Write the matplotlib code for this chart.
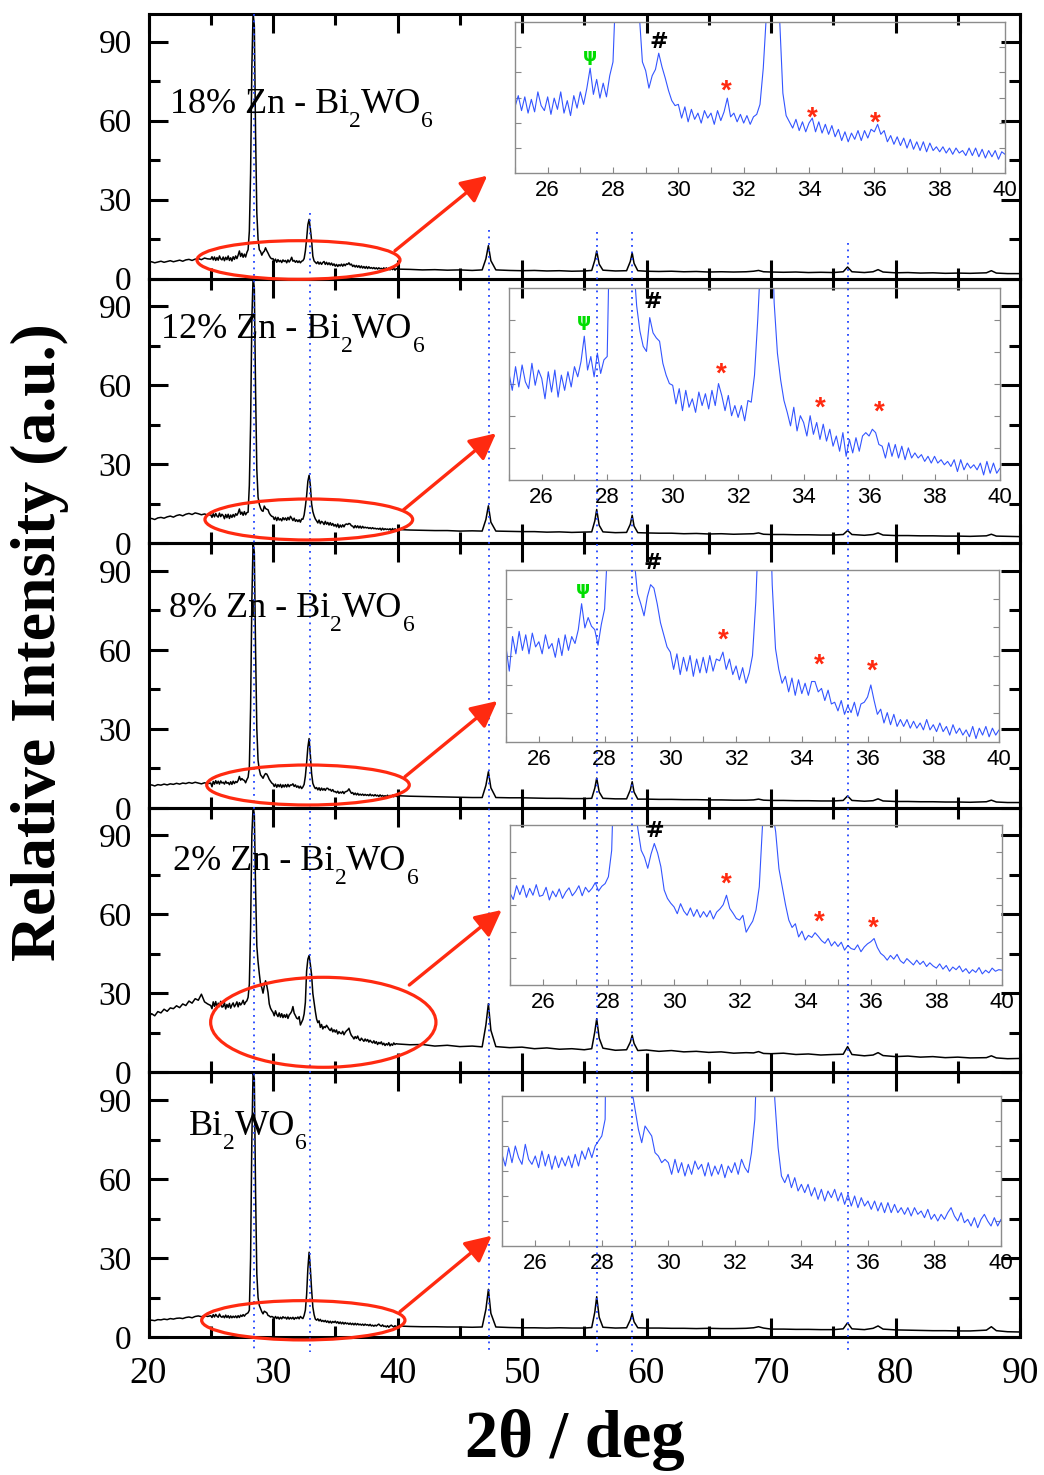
import matplotlib.pyplot as plt
import numpy as np
from matplotlib.patches import Ellipse, FancyArrowPatch
from matplotlib.ticker import MultipleLocator

plt.rcParams['font.family'] = 'Liberation Serif'

# ---- data ----------------------------------------------------------------
x_lo = np.arange(20, 25, 0.25)                   # 20 points
x_mid = np.round(np.arange(25, 40.01, 0.1), 2)   # 151 points (zoomed in insets)
x_hi = [41, 42, 43, 44, 45, 46, 46.8, 47.1, 47.3, 47.5, 47.9, 49, 50, 51, 52, 53, 54, 55,
        55.6, 55.85, 56.0, 56.2, 56.5, 57.5, 58.4, 58.7, 58.85, 59.0, 59.3, 60, 61, 62, 63,
        64, 65, 66, 67, 68, 68.6, 69.0, 69.4, 70, 71, 72, 73, 74, 75, 75.8, 76.15, 76.5,
        77.5, 78.2, 78.6, 79.0, 80, 81, 82, 83, 84, 85, 86, 87.3, 87.7, 88.1, 89, 90]

# sample labels: (normal text, subscript) pieces
labels = [
    [('18% Zn - Bi', False), ('2', True), ('WO', False), ('6', True)],
    [('12% Zn - Bi', False), ('2', True), ('WO', False), ('6', True)],
    [('8% Zn - Bi', False), ('2', True), ('WO', False), ('6', True)],
    [('2% Zn - Bi', False), ('2', True), ('WO', False), ('6', True)],
    [('Bi', False), ('2', True), ('WO', False), ('6', True)],
]

zn18_lo = [6.1, 6.4, 6.0, 6.3, 6.6, 6.2, 6.5, 6.8, 6.4, 6.7, 7.0, 6.6, 7.1, 7.3, 6.9, 7.4, 7.6, 7.2, 7.8, 7.5]
zn18_mid = [7.4, 8.3, 7.1, 8.2, 6.9, 8.0, 7.0, 8.6, 7.5, 7.1,
            8.2, 6.8, 8.1, 7.2, 8.6, 6.9, 7.9, 6.7, 8.3, 7.3,
            8.6, 7.6, 8.9, 10.5, 8.4, 9.6, 8.1, 9.3, 8.2, 9.9,
            11.0, 18.0, 40.0, 80.0, 101.0, 96.0, 55.0, 25.0, 15.0, 11.0,
            10.3, 8.9, 9.9, 10.4, 11.7, 10.6, 9.7, 8.7, 7.9, 7.5,
            7.6, 6.5, 7.4, 6.2, 7.2, 6.4, 6.9, 6.1, 7.1, 6.5,
            6.9, 6.0, 7.1, 6.3, 7.0, 8.1, 6.6, 6.9, 6.2, 6.8,
            6.1, 6.7, 6.0, 6.6, 6.8, 7.6, 10.5, 15.0, 20.5, 22.5,
            19.0, 14.5, 8.5, 6.7, 6.2, 5.7, 6.4, 5.5, 6.2, 5.4,
            6.1, 6.5, 5.4, 6.2, 5.3, 6.0, 5.2, 5.9, 5.0, 5.6,
            4.7, 5.4, 4.6, 5.3, 4.8, 5.5, 4.7, 5.5, 4.9, 5.6,
            5.4, 6.0, 5.2, 5.5, 4.6, 5.1, 4.4, 5.0, 4.3, 4.9,
            4.1, 4.8, 4.0, 4.6, 3.9, 4.6, 3.8, 4.5, 3.9, 4.2,
            3.8, 4.2, 3.7, 4.1, 3.6, 4.1, 3.7, 3.9, 3.5, 4.1,
            3.5, 4.1, 3.4, 4.0, 3.3, 3.9, 3.4, 3.9, 3.2, 3.8,
            3.6]
zn18_hi = [3.5, 3.3, 3.4, 3.2, 3.3, 3.1, 3.3, 7.5, 12.5, 6.8, 3.3, 3.1, 3.0, 3.1, 2.9, 3.0, 2.8, 2.9,
           3.1, 7.0, 10.5, 5.5, 3.2, 2.9, 3.0, 6.5, 9.8, 5.8, 3.0, 2.8, 2.7, 2.8, 2.6,
           2.7, 2.5, 2.6, 2.5, 2.6, 2.8, 3.1, 2.6, 2.5, 2.4, 2.5, 2.3, 2.4, 2.3, 2.6, 4.4, 2.6,
           2.3, 2.6, 3.4, 2.5, 2.2, 2.3, 2.1, 2.2, 2.0, 2.1, 2.0, 2.2, 3.0, 2.1, 1.9, 1.9]

zn12_lo = [9.1, 9.4, 9.0, 9.6, 9.8, 9.5, 10.0, 10.3, 9.9, 10.5, 10.8, 10.4, 11.0, 11.3, 10.9, 11.5, 11.2, 10.8, 11.1, 10.7]
zn12_mid = [10.8, 9.8, 11.2, 10.0, 11.3, 10.3, 9.9, 11.4, 10.1, 11.0,
            10.5, 9.3, 10.9, 9.7, 11.0, 9.4, 10.7, 9.8, 10.9, 10.0,
            11.2, 10.6, 11.5, 13.0, 11.0, 11.8, 10.6, 12.0, 10.8, 11.6,
            11.8, 22.0, 45.0, 85.0, 101.0, 97.0, 58.0, 28.0, 17.5, 14.8,
            13.3, 12.4, 12.1, 14.1, 13.2, 12.9, 12.7, 11.4, 10.7, 10.2,
            10.1, 9.0, 9.9, 8.6, 9.8, 8.8, 9.3, 8.5, 9.7, 8.9,
            9.6, 8.7, 9.8, 8.9, 10.2, 9.5, 8.6, 9.5, 8.3, 8.9,
            8.2, 8.9, 8.0, 9.2, 9.1, 10.7, 14.0, 18.0, 23.5, 25.8,
            22.0, 15.0, 12.0, 10.4, 9.2, 8.5, 7.7, 8.8, 7.4, 8.3,
            7.9, 7.1, 8.3, 7.2, 7.9, 6.9, 7.8, 6.8, 7.5, 6.5,
            7.1, 6.2, 7.3, 5.9, 6.9, 6.1, 7.0, 6.2, 7.1, 7.3,
            7.1, 7.5, 7.3, 6.6, 6.5, 5.8, 6.7, 5.9, 6.6, 5.8,
            6.5, 5.7, 6.4, 5.8, 6.1, 5.8, 6.0, 5.6, 5.9, 5.5,
            5.9, 5.5, 5.7, 5.4, 5.6, 5.3, 5.7, 5.0, 5.7, 5.1,
            5.5, 5.2, 5.4, 5.1, 5.5, 4.8, 5.6, 4.9, 5.5, 4.9,
            5.2]
zn12_hi = [5.0, 4.9, 4.8, 4.8, 4.6, 4.7, 4.6, 9.0, 14.2, 8.0, 4.6, 4.5, 4.4, 4.4, 4.2, 4.3, 4.1, 4.2,
           4.3, 8.5, 12.8, 6.8, 4.3, 4.0, 4.1, 7.2, 10.6, 6.5, 4.0, 3.9, 3.8, 3.8, 3.6,
           3.7, 3.5, 3.6, 3.4, 3.5, 3.6, 3.9, 3.4, 3.3, 3.3, 3.2, 3.2, 3.1, 3.1, 3.3, 4.8, 3.3,
           3.0, 3.3, 3.9, 3.1, 2.9, 2.9, 2.8, 2.8, 2.7, 2.7, 2.6, 2.8, 3.4, 2.7, 2.6, 2.5]

zn8_lo = [8.4, 8.7, 8.3, 8.8, 8.6, 9.0, 8.7, 9.1, 8.9, 9.3, 9.0, 9.4, 9.2, 9.6, 9.3, 9.7, 9.4, 9.1, 9.5, 9.2]
zn8_mid = [9.4, 8.0, 10.0, 9.0, 10.3, 9.2, 10.1, 9.0, 10.2, 9.4,
           9.7, 9.0, 10.1, 9.3, 9.6, 8.8, 9.9, 8.9, 10.1, 9.2,
           10.0, 9.6, 10.4, 11.9, 10.5, 11.1, 10.6, 10.4, 9.5, 10.7,
           11.6, 15.5, 38.0, 78.0, 101.0, 97.0, 60.0, 30.0, 18.0, 14.5,
           12.5, 11.9, 11.2, 12.3, 13.0, 12.8, 11.9, 10.8, 10.1, 9.4,
           9.1, 8.1, 9.0, 7.8, 8.8, 8.0, 8.9, 7.7, 8.7, 7.9,
           8.8, 7.9, 8.9, 8.0, 8.7, 8.6, 9.1, 8.1, 8.7, 7.8,
           8.3, 7.5, 8.2, 7.3, 7.9, 8.9, 12.0, 17.0, 23.0, 26.3,
           20.0, 13.0, 9.3, 8.1, 7.3, 7.7, 6.8, 7.6, 6.6, 7.5,
           6.7, 7.3, 6.6, 7.4, 7.4, 6.8, 7.0, 6.3, 6.9, 6.1,
           6.2, 5.7, 6.3, 5.5, 6.0, 5.6, 6.2, 5.4, 6.1, 6.2,
           6.5, 7.2, 6.3, 5.5, 5.8, 5.0, 5.6, 4.9, 5.5, 4.8,
           5.2, 4.8, 5.2, 4.7, 5.1, 4.7, 5.0, 4.6, 5.2, 4.6,
           4.9, 4.5, 5.0, 4.5, 4.8, 4.3, 4.9, 4.4, 4.7, 4.3,
           4.6, 4.2, 4.8, 4.1, 4.7, 4.3, 4.8, 4.2, 4.7, 4.3,
           4.6]
zn8_hi = [4.4, 4.3, 4.2, 4.1, 4.0, 3.9, 3.9, 8.5, 13.7, 7.6, 3.9, 3.8, 3.8, 3.7, 3.6, 3.6, 3.5, 3.5,
          3.6, 7.5, 11.3, 6.0, 3.6, 3.4, 3.4, 6.8, 9.9, 6.0, 3.3, 3.3, 3.2, 3.2, 3.1,
          3.1, 3.0, 3.0, 2.9, 2.9, 3.0, 3.3, 2.9, 2.8, 2.8, 2.7, 2.7, 2.6, 2.6, 2.8, 4.5, 2.8,
          2.5, 2.7, 3.4, 2.6, 2.4, 2.4, 2.3, 2.3, 2.2, 2.2, 2.1, 2.3, 2.9, 2.2, 2.0, 2.0]

zn2_lo = [21.0, 22.3, 21.5, 23.1, 22.6, 24.0, 23.2, 24.5, 24.2, 25.3, 24.6, 26.0, 25.4, 27.1, 26.3, 28.0, 27.4, 29.7, 26.8, 26.0]
zn2_mid = [25.4, 24.2, 26.8, 25.1, 26.9, 24.6, 26.3, 25.0, 27.0, 24.8,
           25.0, 26.5, 24.1, 25.8, 24.7, 26.2, 24.4, 25.6, 26.4, 24.9,
           25.7, 26.8, 24.9, 26.5, 25.6, 26.3, 27.4, 25.8, 26.7, 27.2,
           28.5, 33.5, 55.0, 90.0, 101.0, 98.0, 70.0, 48.0, 42.0, 37.5,
           33.5, 32.2, 30.1, 32.8, 34.8, 33.0, 30.4, 26.0, 24.4, 23.5,
           22.8, 21.5, 23.4, 22.0, 21.2, 22.6, 21.0, 22.3, 20.8, 21.9,
           20.9, 22.1, 20.5, 21.8, 22.4, 23.2, 25.0, 22.5, 21.6, 20.6,
           20.3, 21.2, 18.0, 19.1, 20.1, 22.2, 26.6, 38.5, 43.0, 44.4,
           41.0, 37.0, 30.0, 26.6, 23.2, 20.3, 18.9, 19.6, 17.1, 18.2,
           16.5, 17.4, 17.0, 17.9, 17.2, 16.4, 15.9, 16.8, 15.4, 16.2,
           15.3, 16.1, 14.6, 15.5, 14.9, 14.7, 15.6, 14.3, 15.2, 15.8,
           16.2, 16.8, 15.1, 14.0, 13.5, 12.7, 13.6, 12.9, 13.8, 12.6,
           12.1, 13.0, 12.4, 11.8, 12.7, 11.9, 12.5, 11.5, 12.2, 11.6,
           11.2, 12.0, 11.0, 11.7, 10.6, 11.4, 10.9, 11.6, 10.5, 11.1,
           10.2, 10.9, 10.4, 11.3, 10.1, 10.8, 10.3, 11.2, 10.6, 10.9,
           10.8]
zn2_hi = [10.5, 10.6, 10.0, 10.3, 9.8, 10.0, 9.7, 18.0, 26.1, 16.0, 9.8, 9.4, 9.6, 9.0, 9.3, 8.8, 9.0, 8.6,
          9.0, 15.5, 20.4, 13.0, 9.2, 8.4, 8.6, 11.5, 14.1, 11.0, 8.3, 8.5, 8.0, 8.3, 7.8,
          8.0, 7.6, 7.8, 7.3, 7.5, 7.4, 7.9, 7.2, 7.1, 7.3, 6.8, 7.0, 6.6, 6.8, 6.9, 9.8, 6.8,
          6.3, 6.6, 7.5, 6.4, 6.0, 6.2, 5.8, 6.0, 5.6, 5.8, 5.5, 5.6, 6.3, 5.5, 5.2, 5.3]

pure_lo = [6.1, 6.4, 6.2, 6.6, 6.5, 6.8, 6.6, 7.0, 6.8, 7.1, 7.2, 7.0, 7.4, 7.6, 7.3, 7.8, 8.0, 7.7, 8.1, 7.8]
pure_mid = [8.1, 7.4, 8.5, 7.6, 8.6, 7.9, 7.5, 8.7, 7.8, 7.5,
            8.0, 7.3, 8.3, 7.4, 8.1, 7.2, 8.0, 7.3, 7.9, 7.4,
            8.0, 7.3, 8.1, 7.4, 8.3, 7.8, 8.5, 7.9, 8.6, 8.9,
            9.2, 10.2, 30.0, 75.0, 101.0, 98.0, 55.0, 24.0, 15.0, 12.0,
            10.8, 9.6, 8.8, 9.8, 9.5, 9.2, 8.2, 8.0, 7.6, 7.8,
            7.6, 6.9, 7.8, 7.0, 7.6, 6.8, 7.5, 6.9, 7.7, 7.2,
            7.5, 6.8, 7.6, 6.8, 7.4, 6.9, 7.5, 6.7, 7.4, 7.0,
            7.6, 6.9, 7.8, 7.3, 7.0, 8.2, 10.2, 16.0, 26.0, 32.2,
            26.0, 18.0, 11.4, 8.5, 6.8, 6.4, 6.9, 6.1, 6.7, 5.9,
            6.3, 5.8, 6.3, 5.6, 6.1, 5.4, 6.0, 5.3, 5.9, 5.5,
            6.0, 5.3, 5.8, 5.1, 5.7, 5.0, 5.6, 4.9, 5.5, 5.0,
            5.3, 4.8, 5.3, 4.7, 5.2, 4.6, 5.2, 4.6, 5.1, 4.6,
            4.9, 4.5, 4.9, 4.4, 4.9, 4.5, 4.7, 4.3, 4.8, 4.2,
            4.5, 4.1, 4.5, 4.2, 4.6, 4.9, 4.4, 4.1, 4.6, 4.0,
            4.2, 3.8, 4.3, 3.7, 4.2, 4.5, 4.1, 3.8, 4.3, 3.8,
            4.2]
pure_hi = [4.0, 3.9, 3.9, 3.8, 3.8, 3.7, 3.8, 10.5, 18.1, 9.0, 3.8, 3.6, 3.5, 3.5, 3.4, 3.5, 3.4, 3.4,
           3.6, 9.5, 15.3, 7.5, 3.7, 3.4, 3.5, 6.5, 9.0, 5.8, 3.5, 3.4, 3.4, 3.3, 3.3,
           3.2, 3.3, 3.2, 3.2, 3.3, 3.5, 3.9, 3.4, 3.0, 3.0, 2.9, 2.9, 2.8, 2.8, 3.1, 5.4, 3.1,
           2.8, 3.3, 4.2, 3.0, 2.7, 2.6, 2.5, 2.4, 2.4, 2.3, 2.3, 2.6, 3.9, 2.4, 2.0, 1.9]

samples = [(zn18_lo, zn18_mid, zn18_hi), (zn12_lo, zn12_mid, zn12_hi), (zn8_lo, zn8_mid, zn8_hi),
           (zn2_lo, zn2_mid, zn2_hi), (pure_lo, pure_mid, pure_hi)]

# y window of each zoomed inset (same units as main panels)
inset_ylims = [(2.1, 14.2), (4.5, 15.85), (3.9, 13.85), (8.0, 38.3), (2.6, 11.6)]

# reference reflection positions (dotted guides)
ref_peaks = [28.5, 32.95, 47.33, 56.0, 58.87, 76.15]

# ---- layout (pixels of the 1044 x 1475 canvas) ---------------------------
W, H = 1044, 1475
RED = '#ff2a10'
BLUE = '#3355ff'

def fx(px):
    return px / W

def fy(py):
    return 1 - py / H

panel_top, panel_bot = 14, 1337
ax_left, ax_right = 148.5, 1020
ph = (panel_bot - panel_top) / 5

label_pos = [(170, 113), (161, 338), (169, 617), (173, 870), (189, 1135)]
inset_px = [(515, 1005, 22, 173), (509, 1000, 288, 480), (506, 999, 570, 742),
            (510, 1002, 825, 985), (502, 1001, 1096, 1246)]
ellipses = [(298.5, 260, 203, 38.6), (308.8, 519.5, 207.7, 41), (308, 785, 202.6, 40),
            (323.3, 1022.3, 225.3, 90), (303.3, 1320.3, 203.3, 39.3)]
arrows = [(395, 250.7, 487.3, 175.7), (403.3, 510, 496, 433.3), (405, 776.7, 497.3, 701),
          (409.3, 985, 501.7, 910), (400, 1311.7, 491.7, 1235.7)]
guide_start = [14, 213, 230, 232, 232, 243]
guide_end = 1352
# inset marks: (symbol, x, fraction of inset height)
marks = [
    [('ψ', 27.31, .776), ('#', 29.39, .866), ('*', 31.47, .579), ('*', 34.10, .403), ('*', 36.03, .369)],
    [('ψ', 27.29, .827), ('#', 29.39, .926), ('*', 31.50, .588), ('*', 34.52, .412), ('*', 36.30, .389)],
    [('ψ', 27.34, .888), ('#', 29.48, 1.04), ('*', 31.60, .629), ('*', 34.53, .483), ('*', 36.15, .450)],
    [('#', 29.40, .965), ('*', 31.60, .667), ('*', 34.44, .427), ('*', 36.07, .392)],
    [],
]

fig = plt.figure(figsize=(W / 100, H / 100), dpi=100)
renderer = fig.canvas.get_renderer()


def put_label(px, py, parts):
    # write text piece by piece so the subscripts drop like the original
    for txt, sub in parts:
        if sub:
            t = fig.text(fx(px), fy(py + 14), txt, fontsize=17, va='baseline', ha='left')
        else:
            t = fig.text(fx(px), fy(py), txt, fontsize=26, va='baseline', ha='left')
        px += t.get_window_extent(renderer).width


for i, (lo, mid, hi) in enumerate(samples):
    x = np.concatenate([x_lo, x_mid, x_hi])
    y = np.concatenate([lo, mid, hi])

    top = panel_top + i * ph
    ax = fig.add_axes([fx(ax_left), fy(top + ph), fx(ax_right - ax_left), ph / H])
    ax.plot(x, y, color='black', lw=1.1)
    ax.set_xlim(20, 90)
    ax.set_ylim(0, 100.5)
    ax.xaxis.set_major_locator(MultipleLocator(10))
    ax.xaxis.set_minor_locator(MultipleLocator(5))
    ax.set_yticks([0, 30, 60, 90])
    ax.yaxis.set_minor_locator(MultipleLocator(15))
    ax.tick_params(which='both', direction='in', top=True, right=True, width=2.2)
    ax.tick_params(which='major', length=13.5)
    ax.tick_params(which='minor', length=8)
    ax.tick_params(axis='y', labelsize=24, pad=12)
    ax.tick_params(axis='x', labelsize=27, pad=14)
    for sp in ax.spines.values():
        sp.set_linewidth(2.2)
    if i < 4:
        ax.tick_params(axis='x', labelbottom=False)
    ax.patch.set_alpha(0)

    lx, ly = label_pos[i]
    put_label(lx, ly, labels[i])

    # zoomed inset of the 25-40 deg window
    x0, x1, y0, y1 = inset_px[i]
    ins = fig.add_axes([fx(x0), fy(y1), fx(x1 - x0), (y1 - y0) / H])
    ins.plot(x, y, color=BLUE, lw=0.8)
    ylo, yhi = inset_ylims[i]
    ins.set_xlim(25, 40)
    ins.set_ylim(ylo, yhi)
    ins.set_xticks(np.arange(26, 41, 2))
    ins.xaxis.set_minor_locator(MultipleLocator(1))
    ins.set_yticks(np.linspace(ylo, yhi, 7)[1:-1])
    ins.tick_params(which='both', direction='in', length=4, width=0.8, color='#888888',
                    left=True, right=True, top=False, labelleft=False, labelsize=16, pad=5)
    for lab in ins.get_xticklabels():
        lab.set_family('Liberation Sans')
    for sp in ins.spines.values():
        sp.set_color('#8c8c8c')
        sp.set_linewidth(1.0)
    ins.patch.set_alpha(0)

    for sym, mx, mf in marks[i]:
        my = ylo + mf * (yhi - ylo)
        if sym == 'ψ':
            ins.text(mx, my, sym, color='#00dd00', fontsize=13, fontweight='bold',
                     family='DejaVu Sans', ha='center', va='center')
        elif sym == '#':
            ins.text(mx, my, sym, color='black', fontsize=16, fontweight='bold',
                     family='DejaVu Sans', ha='center', va='center')
        else:
            ins.text(mx, my - 0.04 * (yhi - ylo), sym, color=RED, fontsize=20, fontweight='bold',
                     family='Liberation Sans', ha='center', va='center')

# dotted reference guides running through all panels
gd = fig.add_axes([fx(ax_left), fy(guide_end), fx(ax_right - ax_left), (guide_end - panel_top) / H])
gd.set_xlim(20, 90)
gd.set_ylim(guide_end, panel_top)
gd.axis('off')
for xp, ys in zip(ref_peaks, guide_start):
    gd.plot([xp, xp], [ys, guide_end], color='#2244ff', lw=1.3, ls=(0, (1, 2.6)))

# red ellipses and arrows
ov = fig.add_axes([0, 0, 1, 1])
ov.set_xlim(0, W)
ov.set_ylim(H, 0)
ov.axis('off')
for (cx, cy, ew, eh), (ax0, ay0, ax1, ay1) in zip(ellipses, arrows):
    ov.add_patch(Ellipse((cx, cy), ew, eh, fill=False, edgecolor=RED, lw=2.3))
    ov.add_patch(FancyArrowPatch((ax0, ay0), (ax1, ay1), arrowstyle='-|>,head_length=0.8,head_width=0.4',
                                 mutation_scale=20, color=RED, lw=2.4, shrinkA=0, shrinkB=0))

fig.text(fx(40), fy(642), 'Relative Intensity (a.u.)', rotation=90, fontsize=46,
         fontweight='bold', ha='center', va='center')
fig.text(fx(575), fy(1440), '2θ / deg', fontsize=48, fontweight='bold', ha='center', va='center')

fig.savefig('out.png', dpi=100, facecolor='white')
